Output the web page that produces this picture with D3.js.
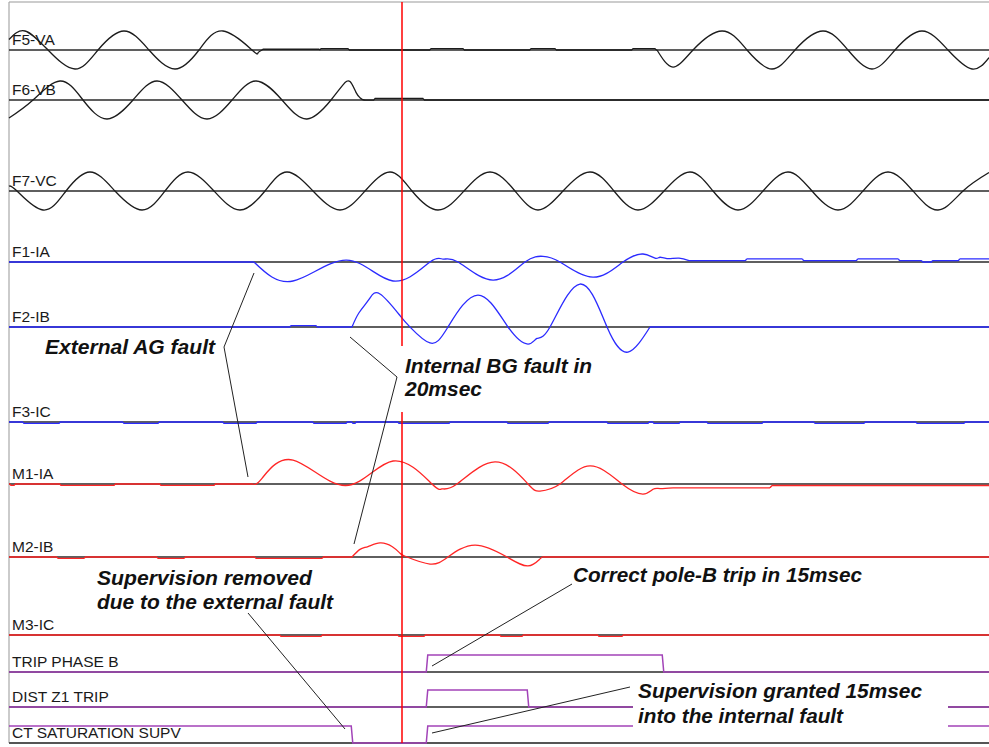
<!DOCTYPE html>
<html><head><meta charset="utf-8">
<script src="https://cdn.jsdelivr.net/npm/d3@7"></script>
<style>html,body{margin:0;padding:0;background:#fff;} svg{display:block;}</style>
</head><body><svg id="chart" width="989" height="747"></svg>
<script>
// ================= DATA (time in ms, values in per-unit of channel scale) =================
const timeDomain = [0, 196];
const cursorTime = 78.6;

const analogNames  = ["F5-VA","F6-VB","F7-VC","F1-IA","F2-IB","F3-IC","M1-IA","M2-IB","M3-IC"];
const digitalNames = ["TRIP PHASE B","DIST Z1 TRIP","CT SATURATION SUPV"];

// F5-VA voltage: extrema / zero crossings read from the record
const f5va = [[0,0.55],[3.2,1],[7.8,0],[13.2,-1],[17.8,0],[23,1],[28,0],[33.2,-1],[38,0],[42.8,1],[48.6,0],[49.8,-0.15],[50.6,0],
  [129.6,0],[132.8,-0.9],[136.8,0],[142.6,1],[147.6,0],[152.6,-1],[157.2,0],[162.8,1],[167.8,0],[172.6,-1],[177.2,0],[182.6,1],[187.8,0],[192.6,-1],[196,-0.4]];
const f5Offsets = [[50.6,62.2,0.04],[62.2,68,0.07],[84.2,91,0.07],[104.2,109.4,0.07],[124.6,129.4,0.07]];

const f6vb = [[0,-0.95],[4.8,0],[10.2,1],[14.8,0],[19.6,-1],[24.8,0],[29.6,1],[34.6,0],[39.6,-1],[44.6,0],[49.4,1],[54.6,0],[59.6,-1],[64.4,0],
  [66.8,0.8],[68.2,0.97],[69.4,0.4],[70.2,0.12],[71,0],[196,0]];
const f6Offsets = [[73,83,0.08]];

const f7vc = [[0,0.25],[1.6,0],[6.8,-1],[11.4,0],[16.2,1],[21.2,0],[26.6,-1],[31.2,0],[35.8,1],[41,0],[46.2,-1],[51.2,0],[55.6,1],[60.8,0],
  [66.2,-1],[71.2,0],[76.2,1],[80.6,0],[85.8,-1],[91,0],[96.2,1],[101.2,0],[105.8,-1],[110.8,0],[116.2,1],[121,0],[125.8,-1],[131,0],
  [136.2,1],[140.8,0],[145.8,-1],[150.8,0],[155.8,1],[160.6,0],[165.8,-1],[170.8,0],[175.8,1],[180.8,0],[185.8,-1],[190.8,0],[196,0.97]];
const f7Offsets = [];

const f1ia = [[0,0],[49,0],[56.8,-1],[67.5,0.1],[76.8,-1],[84.2,0],[86.8,0.15],[89.8,0],[96.8,-0.95],[103.2,0],
  [106.8,0.3],[110.2,0],[116.8,-0.8],[122.8,0],[126.8,0.42],[129.2,0.2],[130.2,0.25],[131.6,0.18],[134,0.2],[136,0.07],[147.3,0.07],
  [147.5,0.16],[158.7,0.16],[158.9,0.07],[169.5,0.07],[169.7,0.16],[177.9,0.16],[178.1,0.07],[182.5,0.07],[182.7,0],[184.5,0],
  [184.7,0.07],[189.9,0.07],[190.1,0.16],[196,0.16]];
const f1Offsets = [];

const f2ib = [[0,0],[68.6,0],[70,0.75],[72,1.45],[74.2,1.74],[78.2,0.6],[80.2,0],[84.2,-0.84],[87.8,0],[93.8,1.68],[99.8,0],
  [103.8,-0.9],[105.6,-0.6],[108.2,0],[114.2,2.26],[119.6,0],[123.8,-1.32],[128.2,0],[196,0]];
const f2Offsets = [[56.2,61.6,0.07]];

const f3ic = [[0,0],[196,0]];
const f3Offsets = [[2.8,10.2,-0.07],[22.8,30,-0.07],[42.8,49.6,-0.07],[60.8,67.6,-0.07],[68.6,69.4,-0.07],[77.8,88.2,-0.07],
  [99.6,108,-0.07],[119.6,128,-0.07],[128.8,134.2,-0.07],[139.6,150.8,-0.07],[161,171.2,-0.07],[181.4,191.2,-0.07]];

const m1ia = [[0,0],[48.8,0],[50.6,0.3],[56.8,1.26],[67.3,-0.08],[76.8,1.21],[84.6,0],[86.6,-0.26],
  [89.6,0],[97.2,1.16],[103.8,0],[106.2,-0.37],[110.2,0],[116.2,0.95],[122.6,0],[126.8,-0.53],[128.8,-0.28],[130.2,-0.24],
  [132.8,-0.2],[152.2,-0.2],[152.6,-0.08],[196,-0.08]];
const m1Offsets = [[0.2,1.2,-0.07],[10.2,21.2,-0.07],[30.2,41.2,-0.07]];

const m2ib = [[0,0],[68.6,0],[70.2,0.4],[71.8,0.55],[74.2,0.74],[76.6,0.55],[78.2,0.2],[79.6,0],[84.2,-0.37],[87.8,0],[93.2,0.63],
  [99.6,0],[103.8,-0.47],[106.2,-0.1],[106.8,0],[196,0]];
const m2Offsets = [[9.6,15.2,-0.07],[29.6,35.2,-0.07],[49.2,62.8,-0.07]];

const m3ic = [[0,0],[196,0]];
const m3Offsets = [[54.2,62.6,-0.07],[77.8,83.2,-0.07],[98.2,102.8,-0.07],[117.8,122.8,-0.07]];

// digital channels: [time, state] transitions
const tripPhaseB = [[0,0],[83.6,1],[130.8,0]];
const distZ1Trip = [[0,0],[83.6,1],[103.8,0]];
const ctSatSupv  = [[0,1],[68.6,0],[83.6,1]];

const annotationTexts = [
  ["External AG fault"],
  ["Internal BG fault in","20msec"],
  ["Supervision removed","due to the external fault"],
  ["Correct pole-B trip in 15msec"],
  ["Supervision granted 15msec","into the internal fault"]
];

// ================= LAYOUT / STYLE =================
const BLACK = "#1c1c1c", BLUE = "#2b2bff", RED = "#ff2626", PURPLE = "#a243b8";
const svg = d3.select("#chart");
const plotLeft = 9, plotRight = 989, plotTop = 2, plotBottom = 743;
const x = d3.scaleLinear().domain(timeDomain).range([plotLeft, plotRight]);
const AMP = 19, DIG = 17;

const analog = [
  {data:f5va, offs:f5Offsets, color:BLACK, base:50},
  {data:f6vb, offs:f6Offsets, color:BLACK, base:100},
  {data:f7vc, offs:f7Offsets, color:BLACK, base:191},
  {data:f1ia, offs:f1Offsets, color:BLUE,  base:262},
  {data:f2ib, offs:f2Offsets, color:BLUE,  base:327},
  {data:f3ic, offs:f3Offsets, color:BLUE,  base:422},
  {data:m1ia, offs:m1Offsets, color:RED,   base:484},
  {data:m2ib, offs:m2Offsets, color:RED,   base:557},
  {data:m3ic, offs:m3Offsets, color:RED,   base:635}
].map((c,i)=>({...c, name:analogNames[i], y:d3.scaleLinear().domain([-1,1]).range([c.base+AMP, c.base-AMP])}));

const digital = [
  {data:tripPhaseB, base:672},
  {data:distZ1Trip, base:707},
  {data:ctSatSupv,  base:743}
].map((c,i)=>({...c, name:digitalNames[i], y:d3.scaleLinear().domain([0,1]).range([c.base, c.base-DIG])}));

function withOffsets(data, offs){
  const pts = data.map(d=>[d[0],d[1]]);
  (offs||[]).forEach(([a,b,dv])=>{ pts.push([a,0],[a+0.15,dv],[b-0.15,dv],[b,0]); });
  pts.sort((p,q)=>p[0]-q[0]);
  const out=[];
  pts.forEach(p=>{ if(!out.length || p[0]-out[out.length-1][0] > 1e-6) out.push(p); });
  return out;
}
// smooth (natural spline) through the oscillating parts, straight through holds and steps
function tracePath(pts, yS){
  const lin = d3.line().x(d=>x(d[0])).y(d=>yS(d[1]));
  const nat = d3.line().x(d=>x(d[0])).y(d=>yS(d[1])).curve(d3.curveNatural);
  let d = "", piece = [pts[0]];
  for(let i=1;i<pts.length;i++){
    const gap = pts[i][0]-pts[i-1][0];
    const hold = Math.abs(pts[i][1]-pts[i-1][1]) < 1e-9 && gap > 3;
    if(gap < 0.5 || gap > 15 || hold){
      if(piece.length>1) d += nat(piece);
      d += lin([pts[i-1], pts[i]]);
      piece = [pts[i]];
    } else piece.push(pts[i]);
  }
  if(piece.length>1) d += nat(piece);
  return d;
}
function stepPoints(data){
  const pts=[[data[0][0],data[0][1]]];
  for(let i=1;i<data.length;i++){
    const [t,v]=data[i], prev=data[i-1][1];
    pts.push([t-0.15,prev],[t+0.15,v]);
  }
  pts.push([timeDomain[1], data[data.length-1][1]]);
  return pts;
}

svg.append("rect").attr("width",989).attr("height",747).attr("fill","#fff");

// frame
svg.append("line").attr("x1",plotLeft).attr("x2",plotRight).attr("y1",plotTop).attr("y2",plotTop)
  .attr("stroke","#9a9a9a").attr("stroke-width",1.2);
svg.append("line").attr("x1",plotLeft).attr("x2",plotLeft).attr("y1",plotTop).attr("y2",plotBottom)
  .attr("stroke","#a8a8a8").attr("stroke-width",1.2);

// baselines
const g = svg.append("g");
analog.concat(digital).forEach(c=>{
  g.append("line").attr("x1",x(timeDomain[0])).attr("x2",x(timeDomain[1]))
    .attr("y1",c.base).attr("y2",c.base).attr("stroke","#2a2a2a").attr("stroke-width",1.3);
});
svg.append("line").attr("x1",plotLeft).attr("x2",plotRight).attr("y1",plotBottom).attr("y2",plotBottom)
  .attr("stroke","#555").attr("stroke-width",2);

// analog traces
analog.forEach(c=>{
  svg.append("path").attr("d", tracePath(withOffsets(c.data, c.offs), c.y))
    .attr("fill","none").attr("stroke",c.color).attr("stroke-width",1.3).attr("stroke-linejoin","round");
});
// digital traces
digital.forEach(c=>{
  const line = d3.line().x(d=>x(d[0])).y(d=>c.y(d[1]));
  svg.append("path").attr("d", line(stepPoints(c.data)))
    .attr("fill","none").attr("stroke",PURPLE).attr("stroke-width",1.5);
});

// channel labels
analog.concat(digital).forEach(c=>{
  svg.append("text").attr("x",12).attr("y",c.base-5.5).text(c.name)
    .attr("font-family","'Liberation Sans', Arial, sans-serif").attr("font-size","15.5px").attr("fill","#1a1a1a");
});

// cursor
svg.append("line").attr("x1",x(cursorTime)).attr("x2",x(cursorTime)).attr("y1",plotTop).attr("y2",plotBottom)
  .attr("stroke","#ff0000").attr("stroke-width",1.5);

// leader lines
const leaders = [
  [[254,273],[224,347],[248,477]],
  [[350,337],[397,377],[354,544]],
  [[248,613],[345,729]],
  [[572,584],[432,666]],
  [[630,687],[432,733]]
];
leaders.forEach(p=>{
  svg.append("path").attr("d", d3.line()(p)).attr("fill","none").attr("stroke","#222").attr("stroke-width",1);
});

// annotation boxes (white backgrounds that hide what's behind)
[[399,346,197,66],[633,679,315,58]].forEach(([bx,by,bw,bh])=>{
  svg.append("rect").attr("x",bx).attr("y",by).attr("width",bw).attr("height",bh).attr("fill","#fff");
});

// annotation texts
const annLayout = [
  {x:45,  y:[354],     len:[170]},
  {x:405, y:[373,396], len:[187,77]},
  {x:97,  y:[585,609], len:[215,236]},
  {x:573, y:[582],     len:[289]},
  {x:638, y:[698,723], len:[284,205]}
];
annotationTexts.forEach((lines,i)=>{
  const L = annLayout[i];
  lines.forEach((s,j)=>{
    svg.append("text").attr("x",L.x).attr("y",L.y[j]).text(s)
      .attr("font-family","'Liberation Sans', Arial, sans-serif").attr("font-size","20px")
      .attr("font-style","italic").attr("font-weight","bold").attr("fill","#111")
      .attr("textLength",L.len[j]).attr("lengthAdjust","spacingAndGlyphs");
  });
});
</script></body></html>
